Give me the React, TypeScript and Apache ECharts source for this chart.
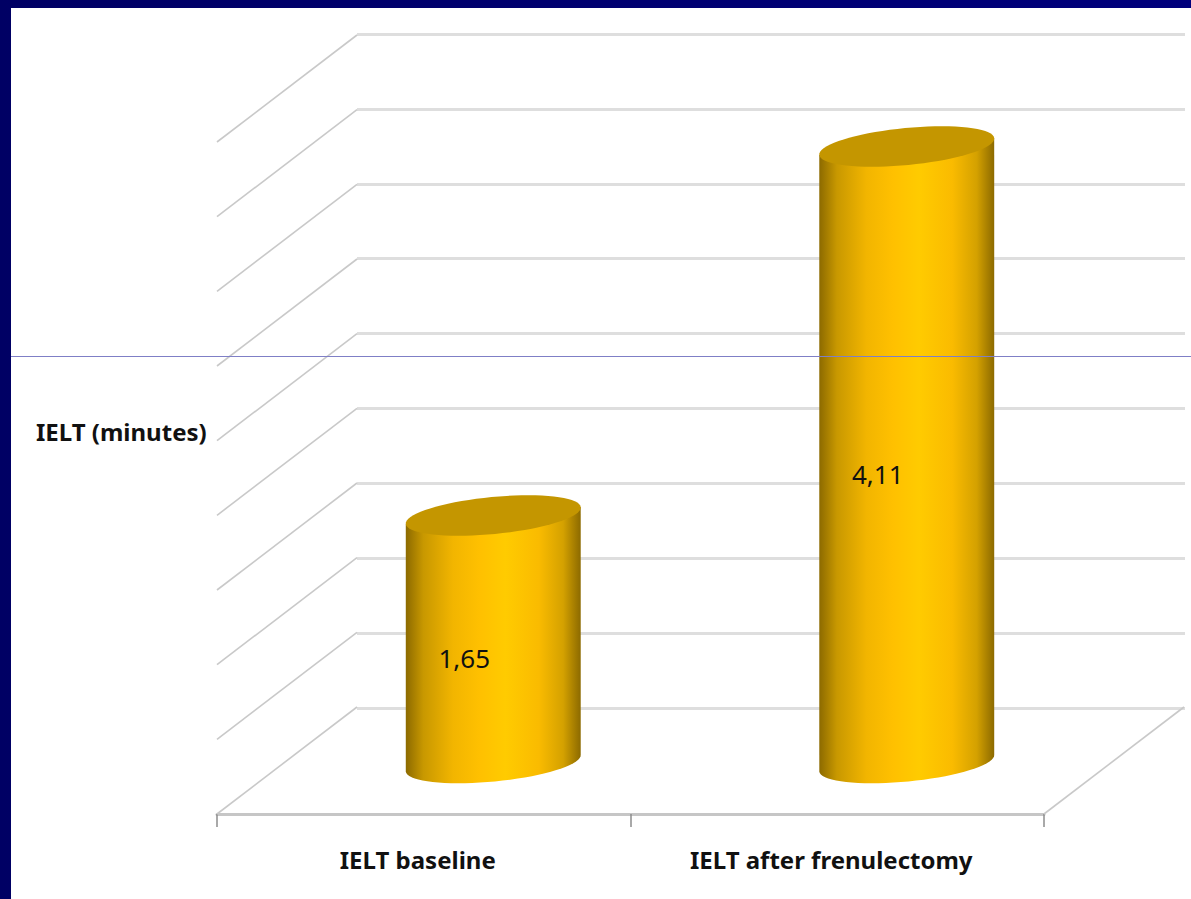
import React, { useEffect, useRef } from "react";
import * as echarts from "echarts";

const categories = ["IELT baseline", "IELT after frenulectomy"];
const ieltMinutes = [1.65, 4.11];
const valueLabels = ["1,65", "4,11"];
const wallTicks = [0, 0.5, 1, 1.5, 2, 2.5, 3, 3.5, 4, 4.5];
const axisTitle = "IELT (minutes)";

const FONT = "'Noto Sans', sans-serif";
const DEPTH_X = 140;
const DEPTH_Y = 107;
const TILT = (-5.5 * Math.PI) / 180;
const RY = 18.5;
const ARC_STEPS = 72;

const bodyStops = [
  { offset: 0, color: "#8c6a00" },
  { offset: 0.1, color: "#c89800" },
  { offset: 0.27, color: "#f2b500" },
  { offset: 0.42, color: "#ffc000" },
  { offset: 0.57, color: "#ffcb00" },
  { offset: 0.76, color: "#fabb00" },
  { offset: 0.9, color: "#d4a100" },
  { offset: 1, color: "#8c6a00" },
];

const ellipsePoint = (cx: number, cy: number, rx: number, a: number) => [
  cx + rx * Math.cos(a) * Math.cos(TILT) - RY * Math.sin(a) * Math.sin(TILT),
  cy + rx * Math.cos(a) * Math.sin(TILT) + RY * Math.sin(a) * Math.cos(TILT),
];

export default function App() {
  const ref = useRef<HTMLDivElement>(null);
  useEffect(() => {
    const chart = echarts.init(ref.current!, undefined, { renderer: "svg" });
    const hiddenCat = (gridIndex: number) => ({
      type: "category" as const,
      gridIndex,
      data: categories,
      show: false,
    });
    const hiddenVal = (gridIndex: number, showLines: boolean) => ({
      type: "value" as const,
      gridIndex,
      min: 0,
      max: 4.5,
      interval: 0.5,
      axisLabel: { show: false },
      axisLine: { show: false },
      axisTick: { show: false },
      splitLine: {
        show: showLines,
        lineStyle: { color: "#dedede", width: 3 },
      },
    });

    chart.setOption({
      animation: false,
      backgroundColor: "transparent",
      grid: [
        { left: 357, width: 828, top: 34, height: 674 },
        { left: 217, width: 827, top: 142, height: 672 },
        { left: 286.5, width: 827, top: 88, height: 675 },
      ],
      xAxis: [
        hiddenCat(0),
        {
          type: "category",
          gridIndex: 1,
          data: categories,
          axisLine: { lineStyle: { color: "#c6c6c6", width: 3 } },
          axisTick: {
            show: true,
            alignWithLabel: false,
            length: 13,
            lineStyle: { color: "#8c8c8c", width: 1.5 },
          },
          axisLabel: {
            margin: 33,
            color: "#111",
            fontFamily: FONT,
            fontWeight: "bold",
            fontSize: 24,
            interval: 0,
            padding: [0, 12, 0, 0],
          },
        },
        hiddenCat(2),
      ],
      yAxis: [hiddenVal(0, true), hiddenVal(1, false), hiddenVal(2, false)],
      series: [
        {
          type: "custom",
          name: "depth lines",
          xAxisIndex: 1,
          yAxisIndex: 1,
          clip: false,
          silent: true,
          z: 3,
          data: wallTicks.map((v) => [0, v]),
          encode: { x: 0, y: 1 },
          renderItem: (params: any, api: any) => {
            const c = params.coordSys;
            const y = api.coord([0, api.value(1)])[1];
            const style = { stroke: "#c9c9c9", lineWidth: 1.6, fill: "none" };
            const line = (x: number) => ({
              type: "line",
              shape: { x1: x, y1: y, x2: x + DEPTH_X, y2: y - DEPTH_Y },
              style,
            });
            const children = [line(c.x)];
            if (api.value(1) === 0) children.push(line(c.x + c.width));
            return { type: "group", children };
          },
        },
        {
          type: "custom",
          name: "IELT",
          xAxisIndex: 2,
          yAxisIndex: 2,
          clip: false,
          silent: true,
          z: 5,
          data: ieltMinutes.map((v, i) => [i, v]),
          encode: { x: 0, y: 1 },
          renderItem: (_params: any, api: any) => {
            const idx = api.value(0);
            const [cx, topY] = api.coord([idx, api.value(1)]);
            const baseY = api.coord([idx, 0])[1];
            const rx = api.size([1, 0])[0] * 0.2125;
            const lidPts: number[][] = [];
            for (let i = 0; i < ARC_STEPS; i++) {
              lidPts.push(ellipsePoint(cx, topY, rx, (i / ARC_STEPS) * 2 * Math.PI));
            }
            const bodyPts: number[][] = [ellipsePoint(cx, topY, rx, 0)];
            for (let i = 0; i <= ARC_STEPS / 2; i++) {
              bodyPts.push(ellipsePoint(cx, baseY, rx, (i / (ARC_STEPS / 2)) * Math.PI));
            }
            bodyPts.push(ellipsePoint(cx, topY, rx, Math.PI));
            return {
              type: "group",
              children: [
                {
                  type: "polygon",
                  shape: { points: bodyPts },
                  style: {
                    fill: new echarts.graphic.LinearGradient(0, 0, 1, 0, bodyStops),
                  },
                },
                {
                  type: "polygon",
                  shape: { points: lidPts },
                  style: { fill: "#c49600" },
                },
                {
                  type: "text",
                  x: cx - 29,
                  y: (topY + baseY) / 2 + 19,
                  style: {
                    text: valueLabels[idx],
                    fill: "#111",
                    fontFamily: FONT,
                    fontSize: 26,
                    align: "center",
                    verticalAlign: "middle",
                  },
                },
              ],
            };
          },
        },
      ],
      graphic: [
        {
          type: "text",
          left: 36,
          top: 419,
          style: {
            text: axisTitle,
            fill: "#111",
            fontFamily: FONT,
            fontWeight: "bold",
            fontSize: 24,
          },
        },
        {
          type: "line",
          z: 50,
          silent: true,
          shape: { x1: 11, y1: 356.5, x2: 1191, y2: 356.5 },
          style: { stroke: "#7f7fc6", lineWidth: 1 },
        },
      ],
    });
    return () => chart.dispose();
  }, []);

  return (
    <div
      style={{
        position: "fixed",
        left: 0,
        top: 0,
        width: 1191,
        height: 899,
        background: "linear-gradient(to right, #000064, #00007c)",
        overflow: "hidden",
      }}
    >
      <div
        style={{
          position: "absolute",
          left: 11,
          top: 8,
          width: 1180,
          height: 891,
          background: "#fff",
        }}
      />
      <div
        ref={ref}
        style={{ position: "absolute", left: 0, top: 0, width: 1191, height: 899 }}
      />
    </div>
  );
}
